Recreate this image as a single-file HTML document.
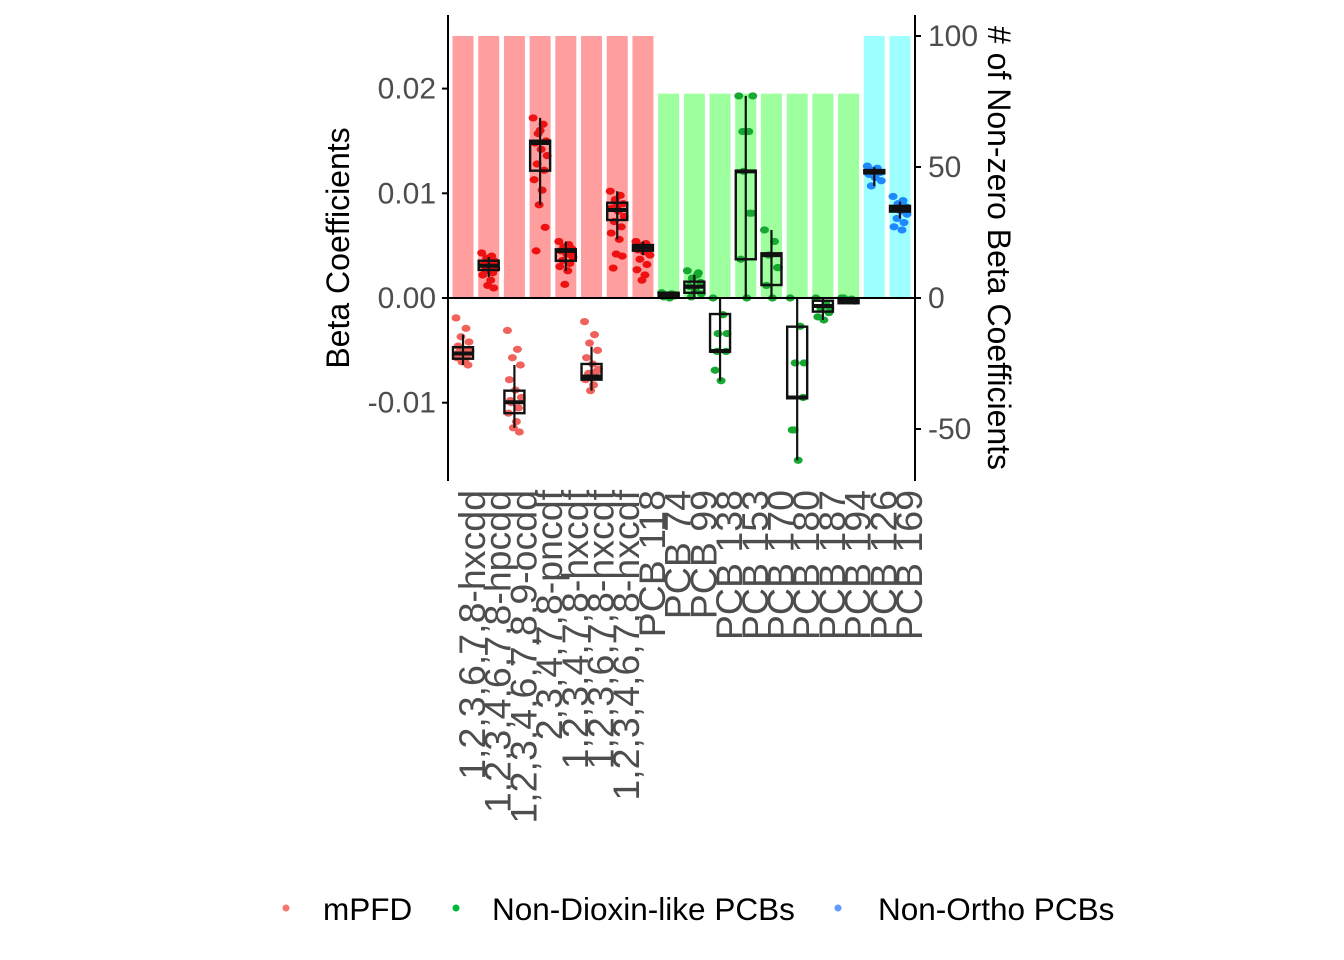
<!DOCTYPE html>
<html><head><meta charset="utf-8"><style>
html,body{margin:0;padding:0;background:#fff;}
svg{display:block;font-family:"Liberation Sans",sans-serif;}
</style></head><body>
<svg id="chart" width="1344" height="960" viewBox="0 0 1344 960" xmlns="http://www.w3.org/2000/svg">
<g id="bars"></g>
<g id="boxes"></g>
<g id="axes"></g>
<g id="legend">
  <circle cx="286" cy="908" r="3.5" fill="#F8766D"/>
  <text x="323" y="920" font-size="31.5" fill="#000">mPFD</text>
  <circle cx="456" cy="908" r="3.5" fill="#00BA38"/>
  <text x="492" y="920" font-size="31.5" fill="#000">Non-Dioxin-like PCBs</text>
  <circle cx="838" cy="908" r="3.5" fill="#619CFF"/>
  <text x="878" y="920" font-size="31.5" fill="#000">Non-Ortho PCBs</text>
</g>
</svg>
<script>
const categories = ["1,2,3,6,7,8-hxcdd","1,2,3,4,6,7,8-hpcdd","1,2,3,4,6,7,8,9-ocdd","2,3,4,7,8-pncdf","1,2,3,4,7,8-hxcdf","1,2,3,6,7,8-hxcdf","1,2,3,4,6,7,8-hxcdf","PCB 118","PCB 74","PCB 99","PCB 138","PCB 153","PCB 170","PCB 180","PCB 187","PCB 194","PCB 126","PCB 169"];
const groups = [0,0,0,0,0,0,0,0,1,1,1,1,1,1,1,1,2,2];
const nonzeroCounts = [100,100,100,100,100,100,100,100,78,78,78,78,78,78,78,78,100,100];
const boxQ1 = [-0.0058,0.00268,-0.0110,0.01216,0.00356,-0.0078,0.00745,0.00452,0.0001,0.0005,-0.00513,0.0037,0.00124,-0.00958,-0.0013,-0.0005,0.0119,0.00825];
const boxMedian = [-0.0053,0.00308,-0.00996,0.0148,0.0045,-0.0075,0.0084,0.00484,0.0003,0.00108,-0.00506,0.0121,0.0041,-0.0095,-0.00076,-0.0002,0.01206,0.00853];
const boxQ3 = [-0.0047,0.00356,-0.00885,0.01502,0.00465,-0.0063,0.0091,0.00506,0.0005,0.00156,-0.00153,0.01216,0.00427,-0.00274,-0.00026,-0.0001,0.01222,0.0088];
const whiskerLow = [-0.0064,0.0020,-0.0124,0.0089,0.0026,-0.00885,0.0056,0.0041,0.0,0.00007,-0.0079,0.0,0.0,-0.0155,-0.0021,-0.0006,0.0107,0.0076];
const whiskerHigh = [-0.0035,0.0039,-0.0064,0.0172,0.0054,-0.00465,0.0102,0.0054,0.0006,0.0022,0.0,0.0193,0.0065,0.0,0.0,0.0,0.0125,0.0092];
const pointValues = [
 [-0.0019,-0.0029,-0.0037,-0.0042,-0.0046,-0.0049,-0.0051,-0.0053,-0.0055,-0.0057,-0.0059,-0.0061,-0.0064,-0.0052,-0.0056],
 [0.0043,0.0040,0.0038,0.0035,0.0032,0.0030,0.0028,0.0026,0.0024,0.0022,0.0017,0.0012,0.00096,0.0031,0.0036],
 [-0.0031,-0.0049,-0.0057,-0.0064,-0.0078,-0.0088,-0.0095,-0.0100,-0.0105,-0.0110,-0.0118,-0.0124,-0.0128,-0.0098],
 [0.0172,0.0166,0.0157,0.0150,0.0148,0.0142,0.0136,0.0128,0.0122,0.0113,0.0103,0.0089,0.00675,0.0045,0.0160],
 [0.0054,0.0051,0.0049,0.0047,0.0045,0.0042,0.0039,0.0036,0.0033,0.0030,0.0026,0.0013,0.0044],
 [-0.00226,-0.0035,-0.0043,-0.0050,-0.0057,-0.0063,-0.0068,-0.0072,-0.0075,-0.0078,-0.0083,-0.00885,-0.0070],
 [0.0102,0.0098,0.0094,0.0090,0.0086,0.0083,0.0078,0.0073,0.0068,0.0062,0.0056,0.0042,0.0040,0.00286,0.0088],
 [0.0054,0.0052,0.0050,0.0048,0.0046,0.0044,0.0041,0.0037,0.0032,0.0027,0.0022,0.0017,0.0049],
 [0.0005,0.0004,0.0003,0.0002,0.0001,0.0,0.0003,0.0002],
 [0.0026,0.0022,0.0019,0.0015,0.0011,0.0007,0.0004,0.0001,0.0024],
 [0.0,-0.0016,-0.0034,-0.0051,-0.0069,-0.0079,-0.0034,-0.0051],
 [0.0193,0.0159,0.0121,0.0081,0.0037,0.0,0.0193,0.0159,0.0081],
 [0.0065,0.0054,0.0041,0.0029,0.0012,0.0,0.0029,0.0041],
 [0.0,-0.0027,-0.0062,-0.0095,-0.0126,-0.0155,-0.0062,-0.0126],
 [0.0,-0.0005,-0.0010,-0.0014,-0.0018,-0.0021,-0.0010],
 [0.0,-0.0001,-0.0002,-0.0003,0.0,-0.0002],
 [0.0126,0.0124,0.0122,0.0120,0.0118,0.0115,0.0112,0.0107,0.0121,0.0119],
 [0.0097,0.0093,0.0090,0.0087,0.0085,0.0083,0.0080,0.0076,0.0072,0.0068,0.0065,0.0086]
];
const leftTicks = [-0.01,0.00,0.01,0.02];
const leftTickLabels = ["-0.01","0.00","0.01","0.02"];
const rightTicks = [-50,0,50,100];
const rightTickLabels = ["-50","0","50","100"];

const NS="http://www.w3.org/2000/svg";
const X0=463, STEP=(900-463)/17, BARW=21;
const xPos = i => X0 + i*STEP;
const yBeta = v => 298 - v*10470;
const yCount = c => 298 - c*2.62;
const barFill = ["#FF9E9E","#9EFF9E","#9EFFFF"];
const ptCol = ["#EE1111","#16A830","#1E88FF"];
function mk(tag, attrs, parent){const e=document.createElementNS(NS,tag);for(const k in attrs)e.setAttribute(k,attrs[k]);parent.appendChild(e);return e;}

const gb=document.getElementById('bars');
categories.forEach((c,i)=>{
  const y=yCount(nonzeroCounts[i]);
  const r=mk('rect',{x:xPos(i)-BARW/2,y:y,width:BARW,height:298-y,fill:barFill[groups[i]]},gb);
  
  
});

const gx=document.getElementById('boxes');
const jit=[-7,3,-2,6,-5,1,7,-3,4,-6,2,-1,5,-4,0];
categories.forEach((c,i)=>{
  const cx=xPos(i);
  pointValues[i].forEach((v,j)=>{
    let col=ptCol[groups[i]];
    if(groups[i]===0 && v<0) col="#F0625C";
    const p=mk('ellipse',{cx:cx+jit[j%jit.length],cy:yBeta(v),rx:4.5,ry:3.6,fill:col},gx);
    
    
  });
  const w=mk('line',{x1:cx,x2:cx,y1:yBeta(whiskerHigh[i]),y2:yBeta(whiskerLow[i]),stroke:"#111","stroke-width":2.2},gx);
  
  
  const yt=yBeta(boxQ3[i]), yb=yBeta(boxQ1[i]);
  const b=mk('rect',{x:cx-10,y:yt,width:20,height:Math.max(yb-yt,1),fill:"none",stroke:"#111","stroke-width":2.4},gx);
  
  
  const m=mk('line',{x1:cx-10,x2:cx+10,y1:yBeta(boxMedian[i]),y2:yBeta(boxMedian[i]),stroke:"#111","stroke-width":4},gx);
  
  
});

const ga=document.getElementById('axes');
let l;
l=mk('line',{x1:448,x2:915,y1:298,y2:298,stroke:"#000","stroke-width":2},ga);


l=mk('line',{x1:448,x2:448,y1:15,y2:481,stroke:"#000","stroke-width":2},ga);


l=mk('line',{x1:915,x2:915,y1:15,y2:481,stroke:"#000","stroke-width":2},ga);


leftTicks.forEach((v,i)=>{
  const y=yBeta(v);
  const t=mk('line',{x1:442,x2:448,y1:y,y2:y,stroke:"#000","stroke-width":2},ga);
  
  
  const tx=mk('text',{x:436,y:y+10,"text-anchor":"end","font-size":30,fill:"#4d4d4d"},ga);
  tx.textContent=leftTickLabels[i];
  
  
});
rightTicks.forEach((v,i)=>{
  const y=yCount(v);
  const t=mk('line',{x1:915,x2:921,y1:y,y2:y,stroke:"#000","stroke-width":2},ga);
  
  
  const tx=mk('text',{x:928,y:y+10,"font-size":30,fill:"#4d4d4d"},ga);
  tx.textContent=rightTickLabels[i];
  
  
});
categories.forEach((c,i)=>{
  const cx=xPos(i)+22;
  const tx=mk('text',{x:0,y:0,transform:`translate(${cx},490) rotate(-90)`,"text-anchor":"end","font-size":37.5,fill:"#4d4d4d"},ga);
  tx.textContent=c;
  
  
});
let tt=mk('text',{x:0,y:0,transform:"translate(349,248) rotate(-90)","text-anchor":"middle","font-size":32,fill:"#000"},ga);
tt.textContent="Beta Coefficients";


tt=mk('text',{x:0,y:0,transform:"translate(988,248) rotate(90)","text-anchor":"middle","font-size":32,fill:"#000"},ga);
tt.textContent="# of Non-zero Beta Coefficients";


</script>
</body></html>
